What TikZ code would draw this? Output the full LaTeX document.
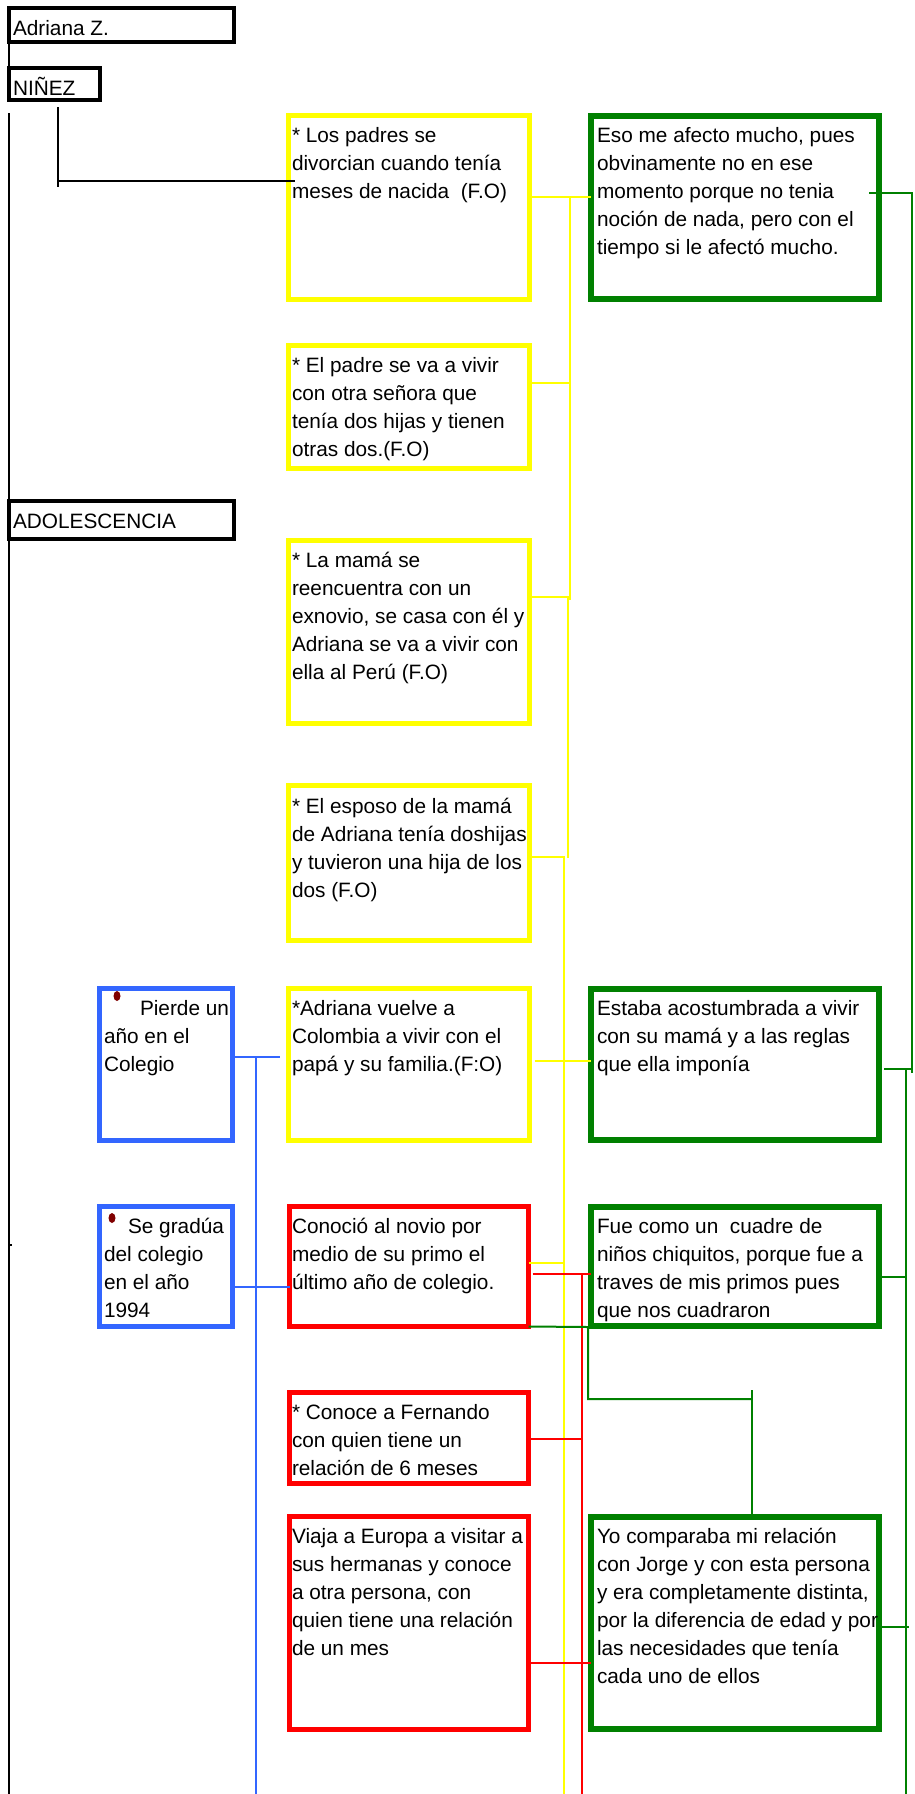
\documentclass[tikz,border=0pt]{standalone}
\usepackage{fontspec}
\setmainfont{Liberation Sans}
\definecolor{cyel}{HTML}{FFFF00}
\definecolor{cgrn}{HTML}{008000}
\definecolor{cred}{HTML}{FF0000}
\definecolor{cblu}{HTML}{3366FF}
\definecolor{cdot}{HTML}{800000}
\newcommand{\ml}[1]{\begin{tabular}[t]{@{}l@{}}#1\end{tabular}}
\begin{document}
\begin{tikzpicture}[x=1pt,y=-1pt,
  boxbase/.style={anchor=north west, inner sep=0pt, outer sep=0pt, draw},
  kbox/.style={boxbase, line width=4pt, draw=black},
  ybox/.style={boxbase, line width=5pt, draw=cyel, minimum width=241pt},
  rbox/.style={boxbase, line width=5pt, draw=cred, minimum width=239pt},
  gbox/.style={boxbase, line width=6pt, draw=cgrn, minimum width=288pt},
  bbox/.style={boxbase, line width=5pt, draw=cblu, minimum width=133pt},
  txt/.style={anchor=base west, inner sep=0pt, outer sep=0pt, font=\fontsize{20.8}{28}\selectfont},
  kline/.style={line width=2.8pt, draw=black},
  yline/.style={line width=2pt, draw=cyel},
  rline/.style={line width=2pt, draw=cred},
  gline/.style={line width=2pt, draw=cgrn},
  bline/.style={line width=2pt, draw=cblu}
]
\useasboundingbox (0,0) rectangle (914,1794);

% ---------- black boxes ----------
\node[kbox, minimum width=225pt, minimum height=34pt] (a) at (9,8) {};
\node[kbox, minimum width=91pt, minimum height=32pt] (nz) at (9,68) {};
\node[kbox, minimum width=225pt, minimum height=38pt] (ad) at (9,501) {};
\node[txt] (ta) at (13,35) {Adriana Z.};
\node[txt] (tnz) at (13,95) {NIÑEZ};
\node[txt] (tad) at (13,528) {ADOLESCENCIA};

% ---------- yellow boxes ----------
\node[ybox, minimum height=184pt] (y1) at (288.5,115.5) {};
\node[ybox, minimum height=123pt] (y2) at (288.5,345.5) {};
\node[ybox, minimum height=183pt] (y3) at (288.5,540.5) {};
\node[ybox, minimum height=155pt] (y4) at (288.5,785.5) {};
\node[ybox, minimum height=152pt] (y5) at (288.5,988.5) {};
\node[txt] (ty1) at (292,142) {\ml{* Los padres se\\divorcian cuando tenía\\meses de nacida\ \ (F.O)}};
\node[txt] (ty2) at (292,372) {\ml{* El padre se va a vivir\\con otra señora que\\tenía dos hijas y tienen\\otras dos.(F.O)}};
\node[txt] (ty3) at (292,567) {\ml{* La mamá se\\reencuentra con un\\exnovio, se casa con él y\\Adriana se va a vivir con\\ella al Perú (F.O)}};
\node[txt] (ty4) at (292,813) {\ml{* El esposo de la mamá\\de Adriana tenía doshijas\\y tuvieron una hija de los\\dos (F.O)}};
\node[txt] (ty5) at (292,1015) {\ml{*Adriana vuelve a\\Colombia a vivir con el\\papá y su familia.(F:O)}};

% ---------- red boxes ----------
\node[rbox, minimum height=120pt] (r1) at (289.5,1206.5) {};
\node[rbox, minimum height=91pt] (r2) at (289.5,1392.5) {};
\node[rbox, minimum height=213pt] (r3) at (289.5,1516.5) {};
\node[txt] (tr1) at (292,1233) {\ml{Conoció al novio por\\medio de su primo el\\último año de colegio.}};
\node[txt] (tr2) at (292,1419) {\ml{* Conoce a Fernando\\con quien tiene un\\relación de 6 meses}};
\node[txt] (tr3) at (292,1543) {\ml{Viaja a Europa a visitar a\\sus hermanas y conoce\\a otra persona, con\\quien tiene una relación\\de un mes}};

% ---------- green boxes ----------
\node[gbox, minimum height=183pt] (g1) at (591,116) {};
\node[gbox, minimum height=151pt] (g2) at (591,989) {};
\node[gbox, minimum height=119pt] (g3) at (591,1207) {};
\node[gbox, minimum height=212pt] (g4) at (591,1517) {};
\node[txt] (tg1) at (597,142) {\ml{Eso me afecto mucho, pues\\obvinamente no en ese\\momento porque no tenia\\noción de nada, pero con el\\tiempo si le afectó mucho.}};
\node[txt] (tg2) at (597,1015) {\ml{Estaba acostumbrada a vivir\\con su mamá y a las reglas\\que ella imponía}};
\node[txt] (tg3) at (597,1233) {\ml{Fue como un\ \ cuadre de\\niños chiquitos, porque fue a\\traves de mis primos pues\\que nos cuadraron}};
\node[txt] (tg4) at (597,1543) {\ml{Yo comparaba mi relación\\con Jorge y con esta persona\\y era completamente distinta,\\por la diferencia de edad y por\\las necesidades que tenía\\cada uno de ellos}};

% ---------- blue boxes ----------
\node[bbox, minimum height=152pt] (b1) at (99.5,988.5) {};
\node[bbox, minimum height=120pt] (b2) at (99.5,1206.5) {};
\fill[cdot] (117,996) ellipse [x radius=3.5pt, y radius=5pt];
\fill[cdot] (112,1218) ellipse [x radius=3.5pt, y radius=5pt];
\node[txt] (tb1a) at (140,1015) {Pierde un};
\node[txt] (tb1) at (104,1043) {\ml{año en el\\Colegio}};
\node[txt] (tb2a) at (128,1233) {Se gradúa};
\node[txt] (tb2) at (104,1261) {\ml{del colegio\\en el año\\1994}};

% ---------- black connectors ----------
\coordinate (L1) at (9,113);
\coordinate (L2) at (9,1794);
\coordinate (tk) at (9,1245);
\coordinate (nj1) at (58,107);
\coordinate (nj2) at (58,187);
\coordinate (nj3) at (58,181);
\coordinate (nj4) at (295,181);
\draw[kline] (a.south west) -- (nz.north west);
\draw[kline] (L1) -- (L2);
\draw[line width=1.5pt] (tk) -- ++(3,0);
\draw[kline, line width=2.5pt] (nj1) -- (nj2);
\draw[kline, line width=2.5pt] (nj3) -- (nj4);

% ---------- yellow connectors ----------
\coordinate (yk1) at (570,197);
\coordinate (yk1b) at (570,600);
\coordinate (yk2) at (570,383);
\coordinate (yk3) at (568,597);
\coordinate (yk4) at (568,858);
\coordinate (yk4b) at (564,857);
\coordinate (yk5) at (564,1263);
\coordinate (yk6) at (564,1794);
\coordinate (yk7) at (564,1061);
\draw[yline] (y1.east |- yk1) -- (g1.west |- yk1);
\draw[yline] (yk1) -- (yk1b);
\draw[yline] (y2.east |- yk2) -- (yk2);
\draw[yline] (y3.east |- yk3) -- (yk3) -- (yk4);
\draw[yline] (y4.east |- yk4b) -- (yk4b) -- (yk6);
\draw[yline] ([xshift=5pt]y5.east |- yk7) -- (g2.west |- yk7);
\draw[yline] (r1.east |- yk5) -- (yk5);

% ---------- blue connectors ----------
\coordinate (bk1) at (256,1057);
\coordinate (bk1e) at (280,1057);
\coordinate (bk2) at (256,1287);
\coordinate (bk3) at (256,1794);
\draw[bline] (b1.east |- bk1) -- (bk1e);
\draw[bline] (bk1) -- (bk3);
\draw[bline] (b2.east |- bk2) -- (r1.west |- bk2);

% ---------- red connectors ----------
\coordinate (rk1) at (582,1274);
\coordinate (rk2) at (582,1439);
\coordinate (rk3) at (582,1663);
\coordinate (rk4) at (582,1794);
\draw[rline] ([xshift=4pt]r1.east |- rk1) -- (g3.west |- rk1);
\draw[rline] (rk1) -- (rk4);
\draw[rline] (r2.east |- rk2) -- (rk2);
\draw[rline] (r3.east |- rk3) -- (g4.west |- rk3);

% ---------- green connectors ----------
\coordinate (gk1) at (912,193);
\coordinate (gk1s) at (869,193);
\coordinate (gk2) at (912,1073);
\coordinate (gk3) at (906,1069);
\coordinate (gk3e) at (913,1069);
\coordinate (gk4) at (906,1277);
\coordinate (gk5) at (906,1627);
\coordinate (gk5e) at (909,1627);
\coordinate (gk6) at (906,1794);
\draw[gline] (gk1s) -- (gk1) -- (gk2);
\draw[gline] ([xshift=5pt]g2.east |- gk3) -- (gk3e);
\draw[gline] (gk3) -- (gk6);
\draw[gline] (g3.east |- gk4) -- (gk4);
\draw[gline] (g4.east |- gk5) -- (gk5e);
\coordinate (gj1) at (588,1327);
\coordinate (gj2) at (588,1399);
\coordinate (gj3) at (752,1399);
\coordinate (gj0) at (752,1390);
\draw[gline] (r1.south east) -- (gj1) -- (gj2) -- (gj3);
\draw[gline] (gj0) -- (g4.north -| gj0);
\end{tikzpicture}
\end{document}
